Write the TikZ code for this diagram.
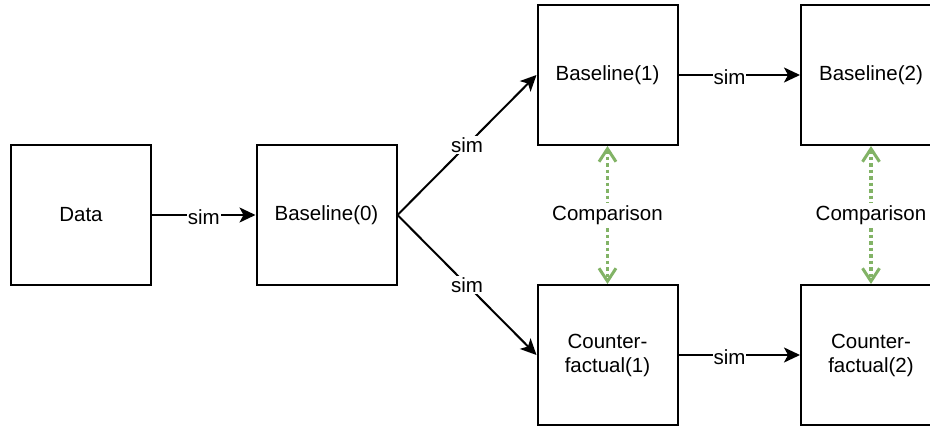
\documentclass[tikz,border=0pt]{standalone}
\usepackage{fontspec}
\setmainfont{Liberation Sans}
\usetikzlibrary{arrows.meta}
\definecolor{cmpgreen}{HTML}{82B366}
\begin{document}
\begin{tikzpicture}[x=1pt,y=-1pt,
  box/.style={draw=black,line width=2pt,minimum width=140pt,minimum height=140pt,inner sep=0pt,align=center,font=\fontsize{20.5}{24}\selectfont},
  flow/.style={draw=black,line width=2pt,-{Stealth[length=16pt,width=15pt,inset=4pt]}},
  lbl/.style={fill=white,inner sep=1pt,font=\fontsize{20.5}{24}\selectfont},
  cmp/.style={draw=cmpgreen,line width=3.5pt,dash pattern=on 3.5pt off 3pt,{Straight Barb[length=13pt,width=17pt,line width=3pt]}-{Straight Barb[length=13pt,width=17pt,line width=3pt]}}]
\useasboundingbox (0,0) rectangle (930,427);
\clip (0,0) rectangle (930,427);
\node[box] (data) at (81,215) {Data};
\node[box] (b0) at (326.5,215) {Baseline(0)};
\node[box] (b1) at (607.5,75) {Baseline(1)};
\node[box] (b2) at (871,75) {Baseline(2)};
\node[box] (c1) at (607.5,355) {Counter-\\factual(1)};
\node[box] (c2) at (871,355) {Counter-\\factual(2)};
\draw[flow] (data) -- node[lbl,yshift=-2pt] {sim} (b0);
\draw[flow] (b0.east) -- node[lbl] {sim} (b1.west);
\draw[flow] (b0.east) -- node[lbl] {sim} (c1.west);
\draw[flow] (b1) -- node[lbl,pos=0.42,yshift=-2pt] {sim} (b2);
\draw[flow] (c1) -- node[lbl,pos=0.42,yshift=-2pt] {sim} (c2);
\draw[cmp] (b1.south) -- node[lbl,inner sep=2pt] {Comparison} (c1.north);
\draw[cmp] (b2.south) -- node[lbl,inner sep=2pt] {Comparison} (c2.north);
\end{tikzpicture}
\end{document}
